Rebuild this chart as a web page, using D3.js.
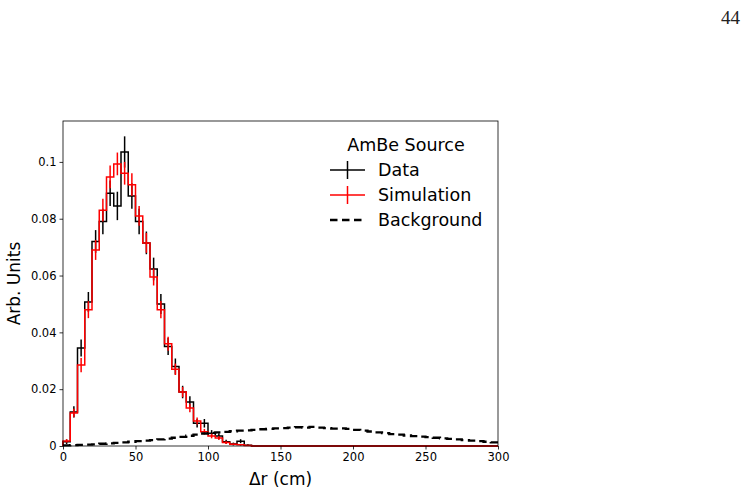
<!DOCTYPE html>
<html>
<head>
<meta charset="utf-8">
<script src="https://cdn.jsdelivr.net/npm/d3@7"></script>
<style>
  body { margin: 0; background: #fff; }
  svg { font-family: "DejaVu Sans", sans-serif; }
</style>
</head>
<body>
<div id="canvas"></div>
<script>
// bins are 5 cm wide, 0 -> 300 cm
const binWidth = 5
const dataVals = [0.0015, 0.012, 0.0345, 0.0507, 0.072, 0.079, 0.089, 0.0845, 0.1035, 0.088,
                  0.079, 0.0715, 0.0623, 0.050, 0.035, 0.028, 0.019, 0.0155, 0.008, 0.008,
                  0.0045, 0.0035, 0.0015, 0.0007, 0.0017, 0.0003]
const dataErr = [0.0008, 0.002, 0.003, 0.0035, 0.004, 0.0045, 0.0045, 0.005, 0.0055, 0.0045,
                 0.0045, 0.004, 0.004, 0.0035, 0.003, 0.0028, 0.0022, 0.002, 0.0015, 0.0015,
                 0.0011, 0.001, 0.0007, 0.0005, 0.0007, 0.0003]
const simVals = [0.0018, 0.0116, 0.0285, 0.048, 0.069, 0.083, 0.0947, 0.0993, 0.096, 0.092,
                 0.081, 0.0715, 0.0595, 0.048, 0.036, 0.027, 0.019, 0.0134, 0.0088, 0.005,
                 0.0035, 0.0028, 0.0012, 0.0006, 0.0004, 0.0002]
const simErr = [0.0006, 0.0015, 0.0025, 0.003, 0.0035, 0.004, 0.004, 0.004, 0.004, 0.004,
                0.0035, 0.0035, 0.003, 0.003, 0.0025, 0.002, 0.0018, 0.0015, 0.0012, 0.001,
                0.0008, 0.0007, 0.0005, 0.0003, 0.0003, 0.0002]
const bkgVals = [0.0002, 0.0003, 0.0004, 0.0005, 0.0006, 0.0008, 0.0009, 0.0011, 0.0013, 0.0015,
                 0.0017, 0.0019, 0.0021, 0.0023, 0.0026, 0.0029, 0.0032, 0.0036, 0.0040, 0.0044,
                 0.0046, 0.0048, 0.0050, 0.0052, 0.0054, 0.0055, 0.0057, 0.0059, 0.0060, 0.0062,
                 0.0063, 0.0065, 0.0066, 0.0065, 0.0067, 0.0065, 0.0063, 0.0061, 0.0062, 0.0060,
                 0.0057, 0.0054, 0.0051, 0.0048, 0.0045, 0.0042, 0.0040, 0.0037, 0.0035, 0.0033,
                 0.0031, 0.0029, 0.0027, 0.0025, 0.0023, 0.0021, 0.0019, 0.0017, 0.0015, 0.0013]
const xTicks = [0, 50, 100, 150, 200, 250, 300]
const yTicks = [0, 0.02, 0.04, 0.06, 0.08, 0.1]
const legendItems = [['Data', 'black', false], ['Simulation', 'red', false], ['Background', 'black', true]]

const W = 748, H = 493
const L = 63, R = 498, T = 121, B = 446

let svg = d3.select("#canvas").append("svg")
    .attr("width", W).attr("height", H)

let x = d3.scaleLinear().domain([0, 300]).range([L, R])
let y = d3.scaleLinear().domain([0, 0.1144]).range([B, T])

// page number
svg.append("text")
    .attr("x", 740).attr("y", 24)
    .attr("text-anchor", "end")
    .attr("font-family", "Liberation Serif, DejaVu Serif, serif")
    .attr("font-size", 19)
    .attr("fill", "#222")
    .text("44")

// step outline for a histogram, padded out to 300 with zeros
function stepPoints(vals) {
    let n = 300 / binWidth
    let v = d3.range(n).map(i => vals[i] || 0)
    let pts = [[0, 0]]
    v.forEach((d, i) => pts.push([i * binWidth, d]))
    pts.push([300, v[n - 1]])
    pts.push([300, 0])
    return pts
}

let step = d3.line()
    .x(d => x(d[0])).y(d => y(d[1]))
    .curve(d3.curveStepAfter)

let plot = svg.append("g")

plot.append("path")
    .attr("d", step(stepPoints(dataVals)))
    .attr("fill", "none").attr("stroke", "black").attr("stroke-width", 1.5)

plot.selectAll(".dataErr")
    .data(dataVals)
    .enter().append("line")
    .attr("x1", (d, i) => x(i * binWidth + binWidth / 2))
    .attr("x2", (d, i) => x(i * binWidth + binWidth / 2))
    .attr("y1", (d, i) => y(d + dataErr[i]))
    .attr("y2", (d, i) => y(Math.max(0, d - dataErr[i])))
    .attr("stroke", "black").attr("stroke-width", 1.5)

plot.append("path")
    .attr("d", step(stepPoints(simVals)))
    .attr("fill", "none").attr("stroke", "red").attr("stroke-width", 1.5)

plot.selectAll(".simErr")
    .data(simVals)
    .enter().append("line")
    .attr("x1", (d, i) => x(i * binWidth + binWidth / 2))
    .attr("x2", (d, i) => x(i * binWidth + binWidth / 2))
    .attr("y1", (d, i) => y(d + simErr[i]))
    .attr("y2", (d, i) => y(Math.max(0, d - simErr[i])))
    .attr("stroke", "red").attr("stroke-width", 1.5)

let bkgLine = d3.line()
    .x(d => x(d[0])).y(d => y(d[1]))
    .curve(d3.curveStepAfter)
let bkgPts = bkgVals.map((d, i) => [i * binWidth, d])
bkgPts.push([300, bkgVals[bkgVals.length - 1]])

plot.append("path")
    .attr("d", bkgLine(bkgPts))
    .attr("fill", "none").attr("stroke", "black").attr("stroke-width", 2.3)
    .attr("stroke-dasharray", "8,4.5")

// axes
let xAxis = svg.append("g")
    .attr("transform", `translate(0,${B})`)
    .call(d3.axisBottom(x).tickValues(xTicks).tickSize(3.5).tickPadding(3).tickFormat(d3.format("d")))
let yAxis = svg.append("g")
    .attr("transform", `translate(${L},0)`)
    .call(d3.axisLeft(y).tickValues(yTicks).tickSize(3.5).tickPadding(3)
        .tickFormat(d => d === 0 ? "0" : String(+d.toFixed(2))))
;[xAxis, yAxis].forEach(a => {
    a.select(".domain").remove()
    a.selectAll("text").attr("font-size", 11.5).attr("font-family", "DejaVu Sans").attr("fill", "black")
    a.selectAll("line").attr("stroke", "black").attr("stroke-width", 0.8)
})

svg.append("rect")
    .attr("x", L).attr("y", T).attr("width", R - L).attr("height", B - T)
    .attr("fill", "none").attr("stroke", "black").attr("stroke-width", 0.8)

svg.append("text")
    .attr("x", (L + R) / 2).attr("y", 485)
    .attr("text-anchor", "middle").attr("font-size", 17)
    .text("Δr (cm)")

svg.append("text")
    .attr("transform", `translate(20,${(T + B) / 2}) rotate(-90)`)
    .attr("text-anchor", "middle").attr("font-size", 17)
    .text("Arb. Units")

// legend
let leg = svg.append("g")
leg.append("text")
    .attr("x", 406).attr("y", 151)
    .attr("text-anchor", "middle").attr("font-size", 17.5)
    .text("AmBe Source")

legendItems.forEach((it, i) => {
    let cy = 170 + i * 25
    leg.append("line")
        .attr("x1", 330).attr("x2", 365).attr("y1", cy).attr("y2", cy)
        .attr("stroke", it[1]).attr("stroke-width", it[2] ? 2.3 : 1.5)
        .attr("stroke-dasharray", it[2] ? "7.5,4.5" : null)
    if (!it[2]) {
        leg.append("line")
            .attr("x1", 347.5).attr("x2", 347.5).attr("y1", cy - 9).attr("y2", cy + 9)
            .attr("stroke", it[1]).attr("stroke-width", 1.5)
    }
    leg.append("text")
        .attr("x", 378).attr("y", cy + 6)
        .attr("font-size", 17.5)
        .text(it[0])
})
</script>
</body>
</html>
